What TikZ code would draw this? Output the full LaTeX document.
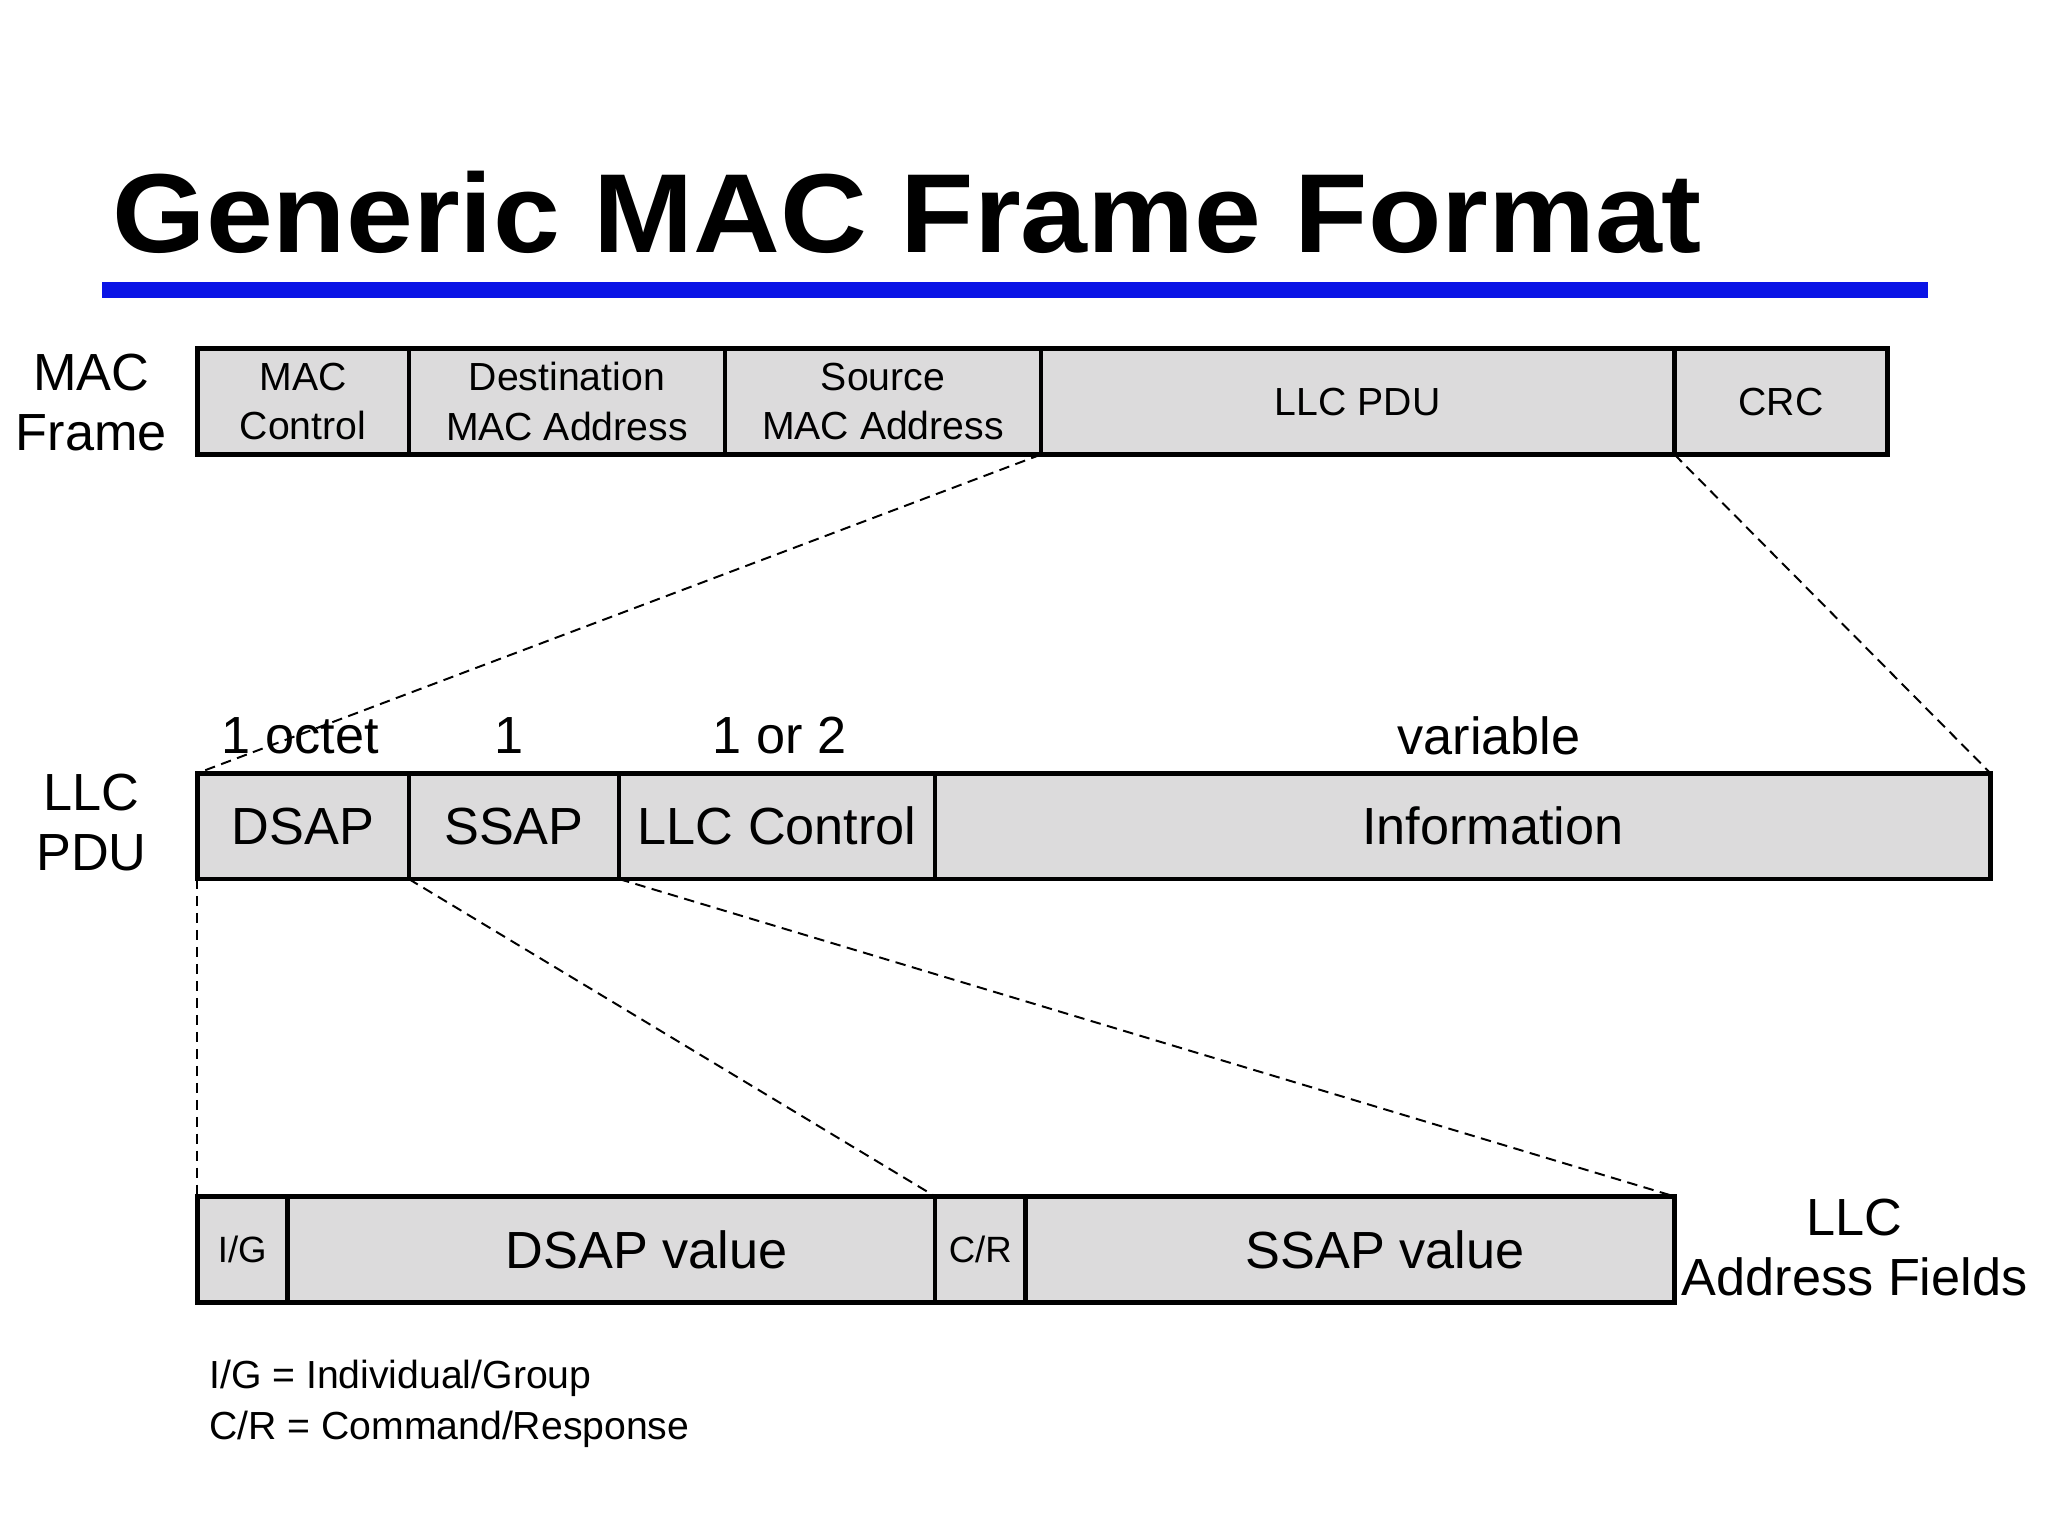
\documentclass[tikz,border=0pt]{standalone}
\usepackage{fontspec}
\setmainfont{Liberation Sans}
\usepackage{tikz}
\usetikzlibrary{positioning}
\definecolor{fieldgray}{HTML}{DCDBDC}
\definecolor{rulblue}{HTML}{0A14E6}
\begin{document}
\begin{tikzpicture}[x=1pt,y=-1pt,
  field/.style={draw=black,line width=3.5pt,fill=fieldgray,anchor=north west,inner sep=0pt,outer sep=0pt,align=center,minimum height=81pt,font=\fontsize{30}{38}\selectfont},
  bigfield/.style={field,font=\fontsize{40}{44}\selectfont},
  tinyfield/.style={field,font=\fontsize{28}{30}\selectfont},
  side/.style={align=center,font=\fontsize{40}{46}\selectfont},
  zoomln/.style={dashed,line width=1.5pt,dash pattern=on 8pt off 5pt}
]
\useasboundingbox (0,0) rectangle (1568,1176);
% Title
\node[anchor=base west,inner sep=0pt,xscale=1.07,font=\fontsize{86}{90}\selectfont\bfseries] (title) at (86,193) {Generic MAC Frame Format};
\fill[rulblue] (78,216) rectangle (1476,228);

% MAC frame
\node[side] (maclbl) at (70,308) {MAC\\Frame};
\node[field,minimum width=162pt] (mctl) at (151,267) {MAC\\Control};
\node[field,minimum width=242pt] (dst) at (313,267) {Destination\\MAC Address};
\node[field,minimum width=242pt] (src) at (555,267) {Source\\MAC Address};
\node[field,minimum width=485pt] (pdu) at (797,267) {LLC PDU};
\node[field,minimum width=163pt] (crc) at (1282,267) {CRC};

% LLC PDU
\node[side] (llclbl) at (70,630) {LLC\\PDU};
\node[bigfield,minimum width=162pt] (dsap) at (151,592) {DSAP};
\node[bigfield,minimum width=161pt] (ssap) at (313,592) {SSAP};
\node[bigfield,minimum width=242pt] (ctl) at (474,592) {LLC Control};
\node[bigfield,minimum width=808pt,text width=808pt,align=center] (info) at (716,592) {\hspace*{46pt}Information};
\node[side] (w1) at (230,563) {1 octet};
\node[side] (w2) at (390,563) {1};
\node[side] (w3) at (597,563) {1 or 2};
\node[side] (w4) at (1140,563) {variable};

% address fields
\node[tinyfield,minimum width=69pt] (ig) at (151,916) {I/G};
\node[bigfield,minimum width=496pt] (dval) at (220,916) {\hspace*{54pt}DSAP value};
\node[tinyfield,minimum width=69pt] (cr) at (716,916) {C/R};
\node[bigfield,minimum width=497pt] (sval) at (785,916) {\hspace*{54pt}SSAP value};
\node[side] (addrlbl) at (1420,955) {LLC\\Address Fields};

% notes
\node[anchor=west,align=left,inner sep=0pt,font=\fontsize{30}{39}\selectfont] (notes) at (160,1075) {I/G = Individual/Group\\C/R = Command/Response};

% zoom lines
\draw[zoomln] (pdu.south west) -- (dsap.north west);
\draw[zoomln] (pdu.south east) -- (info.north east);
\draw[zoomln] (dsap.south west) -- (ig.north west);
\draw[zoomln] (dsap.south east) -- (cr.north west);
\draw[zoomln] (ssap.south east) -- (sval.north east);
\end{tikzpicture}
\end{document}
